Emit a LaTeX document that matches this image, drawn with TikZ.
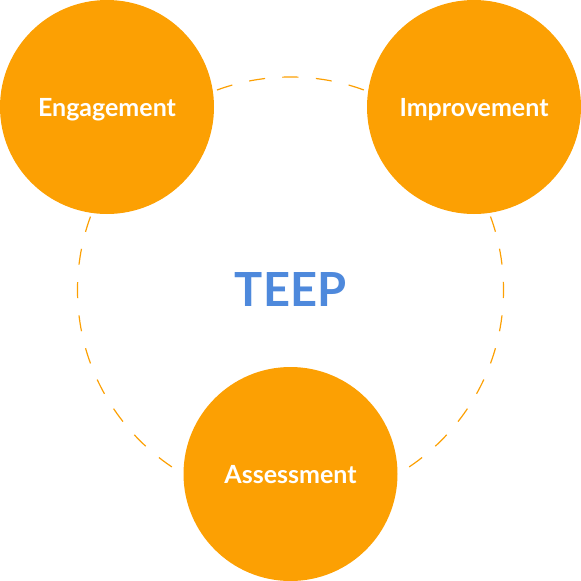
\documentclass[tikz,border=0pt]{standalone}
\usepackage{fontspec}
\setmainfont{Lato}
\definecolor{amber}{HTML}{FCA003}
\definecolor{teepblue}{HTML}{4E89DC}
\begin{document}
\begin{tikzpicture}[x=1pt,y=-1pt,
  phase/.style={circle,fill=amber,minimum size=214pt,inner sep=0pt,
    text=white,text height=18pt,text depth=0pt,
    font=\fontsize{25}{25}\selectfont\bfseries},
  cycle/.style={draw=amber,line width=1.2pt,
    dash pattern=on 16pt off 17.46pt,dash phase=8pt}]
  \useasboundingbox (0,0) rectangle (581,581);
  % dashed ring linking the three phases (40 dashes around)
  \draw[cycle] (290.5,290) circle[radius=213];
  \node[phase] (eng) at (107,107) {Engagement};
  \node[phase] (imp) at (474,107) {Improvement};
  \node[phase] (ass) at (290.5,474) {Assessment};
  \node[text=teepblue,text height=34pt,text depth=0pt,
    font=\fontsize{47}{47}\selectfont\bfseries] (teep) at (290.5,289) {TEEP};
\end{tikzpicture}
\end{document}
